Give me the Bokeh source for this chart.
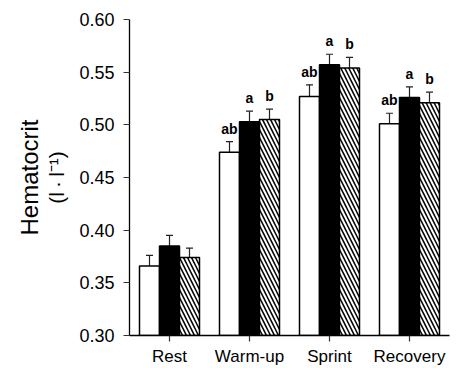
from bokeh.plotting import figure
from bokeh.models import (ColumnDataSource, FactorRange, Range1d, LinearAxis, FixedTicker,
                          Whisker, TeeHead, LabelSet, NumeralTickFormatter)
from bokeh.core.properties import value
from bokeh.transform import dodge
from bokeh.embed import file_html
from bokeh.resources import INLINE

categories = ["Rest", "Warm-up", "Sprint", "Recovery"]
white_mean = [0.366, 0.474, 0.527, 0.501]
white_err = [0.010, 0.010, 0.011, 0.010]
black_mean = [0.385, 0.503, 0.557, 0.526]
black_err = [0.010, 0.010, 0.010, 0.010]
hatch_mean = [0.374, 0.505, 0.554, 0.521]
hatch_err = [0.009, 0.010, 0.010, 0.010]
white_sig = ["", "ab", "ab", "ab"]
black_sig = ["", "a", "a", "a"]
hatch_sig = ["", "b", "b", "b"]
y_ticks = [0.30, 0.35, 0.40, 0.45, 0.50, 0.55, 0.60]

FONT = "Liberation Sans"

p = figure(x_range=FactorRange(*categories), y_range=Range1d(0.30, 0.60),
           width=454, height=368, output_backend="svg", toolbar_location=None,
           min_border_left=129, min_border_right=5, min_border_top=19, min_border_bottom=0)
p.outline_line_color = None
p.xgrid.grid_line_color = None
p.ygrid.grid_line_color = None

series = [
    (white_mean, white_err, white_sig, -0.25, dict(fill_color="white")),
    (black_mean, black_err, black_sig, 0.0, dict(fill_color="black")),
    (hatch_mean, hatch_err, hatch_sig, 0.25, dict(fill_color="white", hatch_pattern="\\",
                                                 hatch_color="black", hatch_scale=8, hatch_weight=1.5)),
]

for mean, err, sig, off, style in series:
    src = ColumnDataSource(dict(x=categories, mean=mean,
                                upper=[m + e for m, e in zip(mean, err)], sig=sig))
    p.vbar(x=dodge("x", off, range=p.x_range), top="mean", bottom=0, width=0.25,
           source=src, line_color="black", line_width=1.5, **style)
    w = Whisker(base=dodge("x", off, range=p.x_range), lower="mean", upper="upper", source=src,
                line_color="#222222", line_width=1.2,
                upper_head=TeeHead(size=7, line_color="#222222", line_width=1.2), lower_head=None)
    p.add_layout(w)
    ls = LabelSet(x=dodge("x", off, range=p.x_range), y="upper", text="sig", source=src,
                  text_align="center", text_baseline="bottom", y_offset=5,
                  text_font=value(FONT), text_font_size="14px", text_font_style="bold",
                  text_color="black")
    p.add_layout(ls)

# y axis
yax = p.yaxis[0]
yax.ticker = FixedTicker(ticks=y_ticks)
yax.formatter = NumeralTickFormatter(format="0.00")
yax.minor_tick_line_color = None
yax.major_tick_in = 0
yax.major_tick_out = 6
yax.major_label_standoff = 9
yax.major_label_text_font = FONT
yax.major_label_text_font_size = "18px"
yax.major_label_text_color = "black"
yax.axis_line_width = 1.3
yax.axis_line_color = "black"
yax.major_tick_line_color = "#333333"
yax.major_tick_line_width = 1.2
yax.axis_label = "(l\u2009·\u2009l⁻¹)"
yax.axis_label_text_font = FONT
yax.axis_label_text_font_size = "21px"
yax.axis_label_text_font_style = "normal"
yax.axis_label_text_color = "black"
yax.axis_label_standoff = 8

ax2 = LinearAxis(ticker=FixedTicker(ticks=[]), axis_line_color=None, major_tick_line_color=None,
                 minor_tick_line_color=None, major_tick_in=0, major_tick_out=0,
                 major_label_standoff=0, axis_label="Hematocrit", axis_label_standoff=0,
                 axis_label_text_font=FONT, axis_label_text_font_size="24px",
                 axis_label_text_font_style="normal", axis_label_text_color="black")
p.add_layout(ax2, "left")

# x axis
xax = p.xaxis[0]
xax.major_tick_in = 0
xax.major_tick_out = 6
xax.major_label_standoff = 5
xax.major_label_text_font = FONT
xax.major_label_text_font_size = "17px"
xax.major_label_text_color = "black"
xax.axis_line_width = 1.3
xax.axis_line_color = "black"
xax.major_tick_line_color = "#333333"
xax.major_tick_line_width = 1.2
xax.group_text_font_size = "0px"

open("out.html", "w").write(file_html(p, INLINE))
